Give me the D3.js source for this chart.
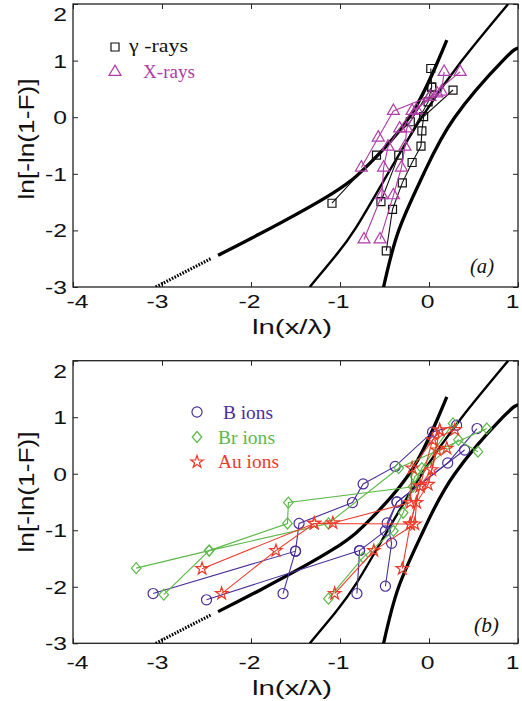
<!DOCTYPE html>
<html><head><meta charset="utf-8">
<script src="https://cdn.jsdelivr.net/npm/d3@7"></script>
<style>body{margin:0;background:#fff}</style>
</head><body><svg id="c" width="522" height="701" xmlns="http://www.w3.org/2000/svg"></svg>
<script>
// ---------- tick values ----------
const xTicks = [-4, -3, -2, -1, 0, 1];
const yTicks = [-3, -2, -1, 0, 1, 2];

// ---------- theoretical curves ----------
const curveLeftDotted = [[-3.07,-3.0],[-2.75,-2.74],[-2.44,-2.49]];
const curveLeftSolid  = [[-2.37,-2.44],[-1.90,-2.06],[-1.08,-1.34],[-0.63,-0.76],[-0.18,0.10],[0.2,1.36]];
const curveMiddle     = [[-1.34,-3],[-1.05,-2.45],[-0.82,-1.95],[-0.5,-1.1],[-0.08,0],[0.37,1],[0.89,2]];
const curveRight      = [[-0.51,-3],[-0.34,-2],[-0.06,-1],[0.29,0],[0.83,1],[1.0,1.22]];

// ---------- panel (a) : gamma-rays (squares) ----------
const gammaRays = [
  [[-1.09,-1.52],[-0.59,-0.67],[-0.21,-0.08],[0.03,0.53]],
  [[-0.48,-2.36],[-0.41,-1.63],[-0.30,-1.16],[-0.19,-0.80],[-0.09,-0.51],[-0.08,-0.24],[-0.06,0.01],[0.27,0.48]],
  [[-0.54,-1.49],[-0.34,-0.67],[-0.01,0.27],[0.03,0.53],[0.02,0.86]]
];
// ---------- panel (a) : X-rays (triangles) ----------
const xRays = [
  [[-0.73,-2.16],[-0.53,-1.38],[-0.51,-0.89],[-0.46,-0.52],[-0.33,-0.20],[-0.19,0.11],[0.14,0.45],[0.17,0.80]],
  [[-0.55,-2.16],[-0.40,-1.38],[-0.31,-0.89],[-0.27,-0.52],[-0.25,-0.20],[-0.14,0.13],[0.01,0.36],[0.35,0.80]],
  [[-0.76,-0.89],[-0.57,-0.36],[-0.40,0.11],[0.09,0.42]]
];

// ---------- panel (b) : B ions (circles) ----------
const bIons = [
  [[-3.10,-2.12],[-1.50,-1.37],[-1.46,-0.88],[-0.86,-0.51],[-0.74,-0.18],[-0.38,0.13],[0.04,0.74],[0.31,0.86]],
  [[-2.50,-2.23],[-0.78,-1.36],[-0.49,-1.01],[-0.36,-0.50],[0.21,0.19],[0.54,0.80]],
  [[-1.64,-2.12],[-1.50,-1.37]],
  [[-0.81,-2.12],[-0.78,-1.36]],
  [[-0.49,-1.99],[-0.42,-1.23],[-0.47,-0.87],[-0.36,-0.50],[0.40,0.42]]
];
// ---------- panel (b) : Br ions (diamonds) ----------
const brIons = [
  [[-3.29,-1.67],[-2.47,-1.36],[-1.59,-0.88],[-1.58,-0.51],[-0.18,-0.23],[-0.08,0.10],[0.27,0.89]],
  [[-2.98,-2.14],[-2.47,-1.36],[-1.13,-0.88],[-0.34,0.10],[0.65,0.80]],
  [[-1.13,-2.21],[-0.74,-1.48],[-0.40,-1.01],[-0.29,-0.69],[-0.16,-0.05],[0.33,0.60],[0.55,0.39]]
];
// ---------- panel (b) : Au ions (stars) ----------
const auIons = [
  [[-2.55,-1.68],[-1.29,-0.88],[-1.08,-0.87],[-0.21,-0.51],[-0.19,0.10],[0.12,0.77]],
  [[-2.33,-2.12],[-1.72,-1.36],[-1.29,-0.88],[-0.21,-0.89],[-0.10,-0.22],[0.04,0.60],[0.29,0.78]],
  [[-1.06,-2.12],[-0.62,-1.36],[-0.16,-0.89],[-0.14,-0.51],[-0.01,-0.19],[0.09,0.42],[0.20,0.45]],
  [[-0.30,-1.68],[-0.21,-0.89],[-0.10,-0.22],[0.03,0.07],[0.12,0.77]]
];

// ---------- legend labels ----------
const legendA = ["\u03B3 -rays", "X-rays"];
const legendB = ["B ions", "Br ions", "Au ions"];
const panelLabels = ["(a)", "(b)"];

// ================= drawing =================
const svg = d3.select('#c');
svg.append('rect').attr('width',522).attr('height',701).attr('fill','#fff');

const L = 73, R = 518;
const x = d3.scaleLinear().domain([-4, 1]).range([L, R]);

const COL = {gamma:'#111', xray:'#b03ca6', b:'#4b2d9b', br:'#5cb848', au:'#ee3a2a'};
const SANS = "'Liberation Sans', Arial, Helvetica, sans-serif";
const SERIF = "'Liberation Serif', 'Times New Roman', serif";

const diamond = { draw(ctx, size){ const r = Math.sqrt(size)/2; const w=r*0.95, h=r*1.1;
  ctx.moveTo(0,-h); ctx.lineTo(w,0); ctx.lineTo(0,h); ctx.lineTo(-w,0); ctx.closePath(); } };

const SYM = {
  square: d3.symbol(d3.symbolSquare, 64),
  tri: d3.symbol(d3.symbolTriangle, 62),
  circle: d3.symbol(d3.symbolCircle, 80),
  diamond: d3.symbol(diamond, 100),
  star: d3.symbol(d3.symbolStar, 48)
};

function panel(top, bottom, idx){
  const y = d3.scaleLinear().domain([-3, 2]).range([bottom, top]);
  const g = svg.append('g');
  const cid = 'clip'+idx;
  svg.append('clipPath').attr('id', cid).append('rect')
    .attr('x', L).attr('y', top).attr('width', R-L).attr('height', bottom-top);

  const ax = d3.axisBottom(x).tickValues(xTicks).tickSize(-5).tickPadding(0);
  const axT = d3.axisTop(x).tickValues(xTicks).tickSize(-5).tickFormat('');
  const ay = d3.axisLeft(y).tickValues(yTicks).tickSize(-5).tickPadding(0);
  const ayR = d3.axisRight(y).tickValues(yTicks).tickSize(-5).tickFormat('');

  const gx = g.append('g').attr('transform', `translate(0,${bottom})`).call(ax);
  g.append('g').attr('transform', `translate(0,${top})`).call(axT);
  const gy = g.append('g').attr('transform', `translate(${L},0)`).call(ay);
  g.append('g').attr('transform', `translate(${R},0)`).call(ayR);
  g.selectAll('.domain').remove();
  g.selectAll('.tick line').attr('stroke','#222').attr('stroke-width',1);

  const xdx = {'-4':4, '-3':-5, '-2':-2, '-1':-2, '0':-2, '1':-6};
  gx.selectAll('text')
    .attr('font-family', SANS).attr('font-size', 19).attr('fill','#111')
    .attr('y', idx===0 ? 8 : 12.5).attr('dy','0.71em')
    .attr('transform', d => `translate(${xdx[d]},0) scale(1.3,1)`)
    .text(d => d < 0 ? '-' + Math.abs(d) : String(d));
  gy.selectAll('text')
    .attr('font-family', SANS).attr('font-size', 19).attr('fill','#111')
    .attr('x', -4.6).attr('dy','0.34em')
    .attr('transform', d => `translate(0,${d===2 ? 10 : 0}) scale(1.3,1)`)
    .text(d => d < 0 ? '-' + Math.abs(d) : String(d));

  g.append('rect').attr('x', L).attr('y', top).attr('width', R-L).attr('height', bottom-top)
    .attr('fill','none').attr('stroke','#222').attr('stroke-width',1.3);

  const pl = g.append('g').attr('clip-path', `url(#${cid})`);
  const line = d3.line().x(d => x(d[0])).y(d => y(d[1])).curve(d3.curveNatural);

  pl.append('path').datum(curveLeftDotted).attr('d', line).attr('fill','none')
    .attr('stroke','#000').attr('stroke-width',3.2).attr('stroke-dasharray','1.6,1.4');
  pl.append('path').datum(curveLeftSolid).attr('d', line).attr('fill','none')
    .attr('stroke','#000').attr('stroke-width',3.3);
  pl.append('path').datum(curveMiddle).attr('d', line).attr('fill','none')
    .attr('stroke','#000').attr('stroke-width',2.4);
  pl.append('path').datum(curveRight).attr('d', line).attr('fill','none')
    .attr('stroke','#000').attr('stroke-width',3.3);

  return {g: pl, y};
}

function series(p, chains, color, sym){
  const lin = d3.line().x(d => x(d[0])).y(d => p.y(d[1]));
  chains.forEach(c => {
    p.g.append('path').datum(c).attr('d', lin).attr('fill','none')
      .attr('stroke', color).attr('stroke-width', 1.1);
  });
  chains.forEach(c => {
    p.g.selectAll(null).data(c).enter().append('path')
      .attr('d', sym).attr('transform', d => `translate(${x(d[0])},${p.y(d[1])})`)
      .attr('fill','none').attr('stroke', color).attr('stroke-width', 1.2);
  });
}

const pa = panel(4, 287, 0);
series(pa, gammaRays, COL.gamma, SYM.square);
series(pa, xRays, COL.xray, SYM.tri);

const pb = panel(360.7, 643.3, 1);
series(pb, bIons, COL.b, SYM.circle);
series(pb, brIons, COL.br, SYM.diamond);
series(pb, auIons, COL.au, SYM.star);

function yTitle(cy){
  svg.append('text').attr('transform', `translate(27,${cy}) rotate(-90)`)
    .attr('text-anchor','middle').attr('y', 7).attr('font-family', SANS).attr('font-size', 22)
    .attr('fill','#111').attr('textLength', 121).attr('lengthAdjust','spacingAndGlyphs')
    .text('ln[-ln(1-F)]');
}
function xTitle(base){
  svg.append('text').attr('x', 292).attr('y', base).attr('text-anchor','middle')
    .attr('font-family', SANS).attr('font-size', 21).attr('fill','#111')
    .attr('textLength', 80).attr('lengthAdjust','spacingAndGlyphs')
    .text('ln(x/\u03BB)');
}
yTitle(139); yTitle(492);
xTitle(334); xTitle(695);

function legItem(mx, my, sym, color, tx, ty, txt, len){
  svg.append('path').attr('d', sym).attr('transform', `translate(${mx},${my})`)
    .attr('fill','none').attr('stroke', color).attr('stroke-width', 1.2);
  svg.append('text').attr('x', tx).attr('y', ty).attr('font-family', SERIF).attr('font-size', 18)
    .attr('fill', color).attr('textLength', len).attr('lengthAdjust','spacingAndGlyphs').text(txt);
}
legItem(115, 47, SYM.square, COL.gamma, 129, 52, legendA[0], 59);
legItem(115, 72, SYM.tri, COL.xray, 143, 78, legendA[1], 52);
legItem(197, 412, SYM.circle, COL.b, 223, 419, legendB[0], 50);
legItem(197, 437, SYM.diamond, COL.br, 218, 444, legendB[1], 57);
legItem(197, 462, SYM.star, COL.au, 218, 468, legendB[2], 61);

svg.append('text').attr('x', 470).attr('y', 273).attr('font-family', SERIF).attr('font-style','italic')
  .attr('font-size', 20).attr('fill','#111').attr('textLength', 24).attr('lengthAdjust','spacingAndGlyphs').text(panelLabels[0]);
svg.append('text').attr('x', 474).attr('y', 632).attr('font-family', SERIF).attr('font-style','italic')
  .attr('font-size', 20).attr('fill','#111').attr('textLength', 25).attr('lengthAdjust','spacingAndGlyphs').text(panelLabels[1]);
</script>
</body></html>
